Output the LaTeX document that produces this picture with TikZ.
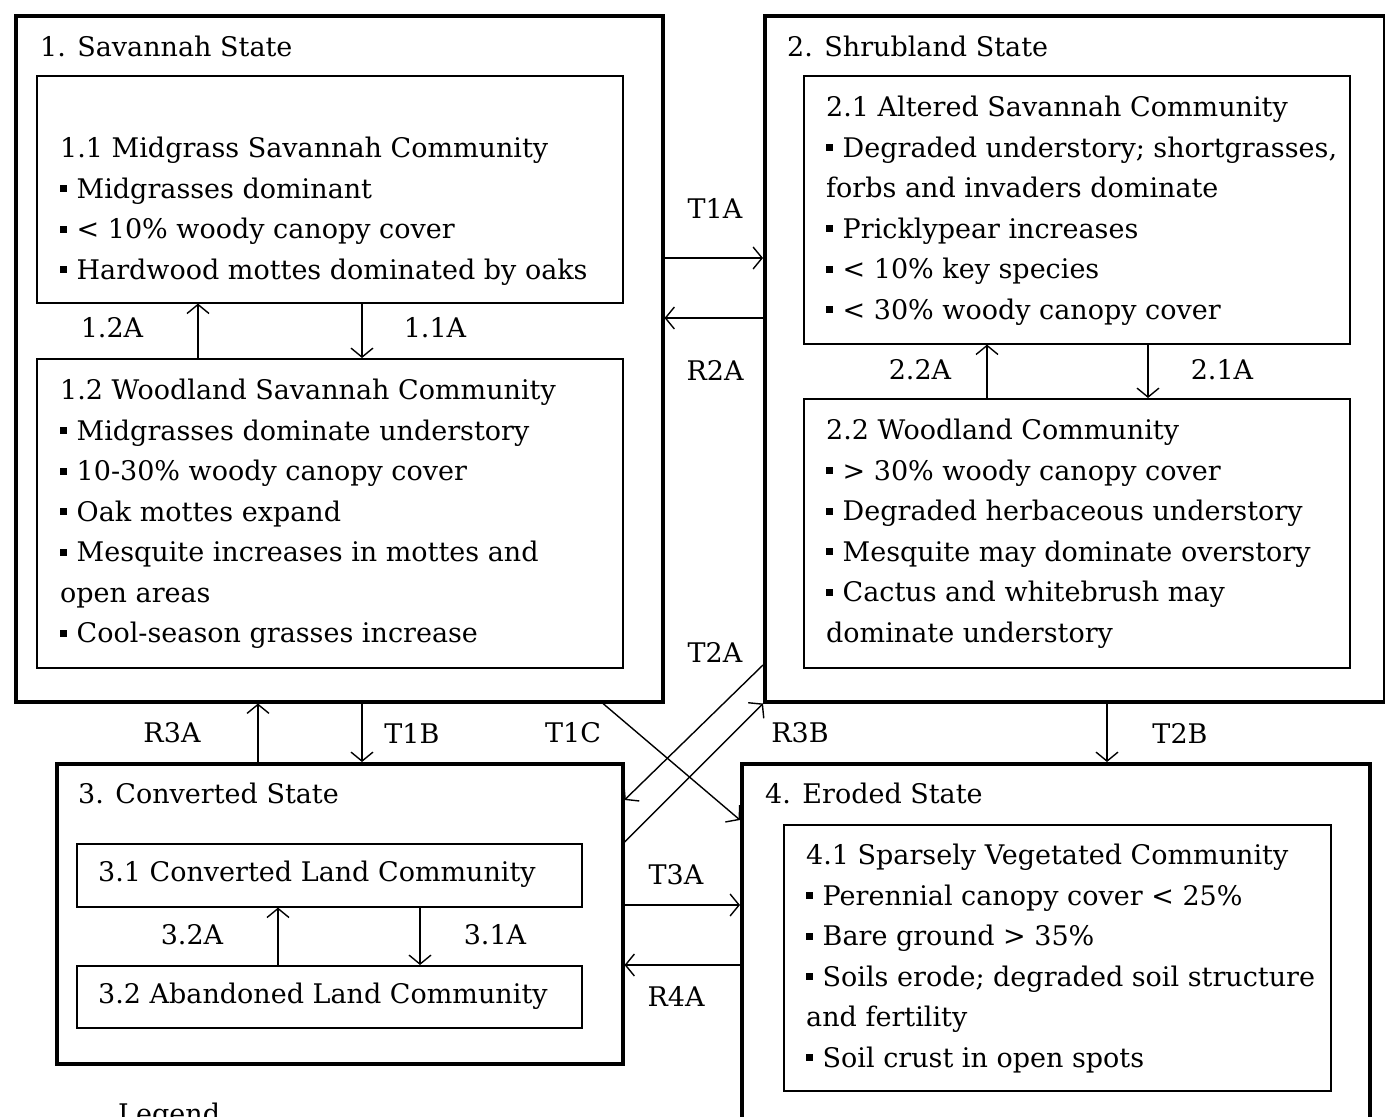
\documentclass[tikz,border=0pt]{standalone}
\usepackage{fontspec}
\setmainfont{DejaVu Serif}
\usetikzlibrary{arrows.meta}
\newcommand\blt{\rule[0.22em]{0.26em}{0.26em}\hspace{0.35em}}

\begin{document}
\begin{tikzpicture}
        [x=1pt, y=-1pt,
         outer/.style={draw=black, line width=3.5pt, anchor=north west, inner sep=0pt},
         inner/.style={draw=black, line width=1.6pt, anchor=north west, inner sep=0pt},
         txt/.style={anchor=north west, align=left, inner sep=0pt, font=\fontsize{27}{40.5}\selectfont},
         lbl/.style={inner sep=0pt, font=\fontsize{27}{30}\selectfont},
         arr/.style={line width=1.4pt, -{Straight Barb[length=9pt,width=22pt]}}]
        \useasboundingbox (0,0) rectangle (1385,1117);
        % states
        \node[outer, minimum width=647pt, minimum height=686pt] (s1) at (14,14) {};
        \node[outer, minimum width=620pt, minimum height=686pt] (s2) at (763,14) {};
        \node[outer, minimum width=566pt, minimum height=300pt] (s3) at (55,762) {};
        \node[outer, minimum width=628pt, minimum height=370pt] (s4) at (740,762) {};
        % communities
        \node[inner, minimum width=586pt, minimum height=227pt] (b11) at (36,75) {};
        \node[inner, minimum width=586pt, minimum height=309pt] (b12) at (36,358) {};
        \node[inner, minimum width=546pt, minimum height=268pt] (b21) at (803,75) {};
        \node[inner, minimum width=546pt, minimum height=269pt] (b22) at (803,398) {};
        \node[inner, minimum width=505pt, minimum height=63pt] (b31) at (76,843) {};
        \node[inner, minimum width=505pt, minimum height=62pt] (b32) at (76,965) {};
        \node[inner, minimum width=547pt, minimum height=266pt] (b41) at (783,824) {};
        % titles
        \node[lbl, anchor=west] (h1) at (40,46) {1. Savannah State};
        \node[lbl, anchor=west] (h2) at (787,46) {2. Shrubland State};
        \node[lbl, anchor=west] (h3) at (78,793) {3. Converted State};
        \node[lbl, anchor=west] (h4) at (765,793) {4. Eroded State};
        % texts
        \node[txt] (t11) at (60,137) {1.1 Midgrass Savannah Community\\
              \blt Midgrasses dominant\\
              \blt < 10\% woody canopy cover\\
              \blt Hardwood mottes dominated by oaks};
        \node[txt] (t12) at (60,379) {1.2 Woodland Savannah Community\\
              \blt Midgrasses dominate understory\\
              \blt 10-30\% woody canopy cover\\
              \blt Oak mottes expand\\
              \blt Mesquite increases in mottes and\\
              open areas\\
              \blt Cool-season grasses increase};
        \node[txt] (t21) at (826,96) {2.1 Altered Savannah Community\\
              \blt Degraded understory; shortgrasses,\\
              forbs and invaders dominate\\
              \blt Pricklypear increases\\
              \blt < 10\% key species\\
              \blt < 30\% woody canopy cover};
        \node[txt] (t22) at (826,419) {2.2 Woodland Community\\
              \blt > 30\% woody canopy cover\\
              \blt Degraded herbaceous understory\\
              \blt Mesquite may dominate overstory\\
              \blt Cactus and whitebrush may\\
              dominate understory};
        \node[lbl, anchor=west] (t31) at (98,874) {3.1 Converted Land Community};
        \node[lbl, anchor=west] (t32) at (98,996) {3.2 Abandoned Land Community};
        \node[txt] (t41) at (806,844) {4.1 Sparsely Vegetated Community\\
              \blt Perennial canopy cover < 25\%\\
              \blt Bare ground > 35\%\\
              \blt Soils erode; degraded soil structure\\
              and fertility\\
              \blt Soil crust in open spots};
        \node[lbl, anchor=north west] (legend) at (118,1103) {Legend};
        % transition labels
        \foreach \n/\t/\x/\y in {l12a/1.2A/112/328, l11a/1.1A/435/328,
                                 lt1a/T1A/715/208, lr2a/R2A/715/370,
                                 l22a/2.2A/920/370, l21a/2.1A/1222/370,
                                 lr3a/R3A/172/733, lt1b/T1B/412/733,
                                 lt1c/T1C/573/733, lt2a/T2A/715/652,
                                 lr3b/R3B/800/733, lt2b/T2B/1180/733,
                                 lt3a/T3A/676/875, lr4a/R4A/676/996,
                                 l32a/3.2A/192/935, l31a/3.1A/495/935}
          \node[lbl] (\n) at (\x,\y) {\t};
        % pathways
        \draw[arr] (198,0 |- b12.north) -- (198,0 |- b11.south);
        \draw[arr] (362,0 |- b11.south) -- (362,0 |- b12.north);
        \draw[arr] (987,0 |- b22.north) -- (987,0 |- b21.south);
        \draw[arr] (1148,0 |- b21.south) -- (1148,0 |- b22.north);
        \draw[arr] (278,0 |- b32.north) -- (278,0 |- b31.south);
        \draw[arr] (420,0 |- b31.south) -- (420,0 |- b32.north);
        \draw[arr] (s1.east |- 0,258) -- (s2.west |- 0,258);
        \draw[arr] (s2.west |- 0,318) -- (s1.east |- 0,318);
        \draw[arr] (258,0 |- s3.north) -- (258,0 |- s1.south);
        \draw[arr] (362,0 |- s1.south) -- (362,0 |- s3.north);
        \draw[arr] (1107,0 |- s2.south) -- (1107,0 |- s4.north);
        \draw[arr] (603,0 |- s1.south) -- (s4.west |- 0,820);
        \draw[arr] (s2.west |- 0,665) -- (s3.east |- 0,800);
        \draw[arr] (s3.east |- 0,842) -- (s2.south west);
        \draw[arr] (s3.east |- 0,905) -- (s4.west |- 0,905);
        \draw[arr] (s4.west |- 0,965) -- (s3.east |- 0,965);
\end{tikzpicture}
\end{document}
